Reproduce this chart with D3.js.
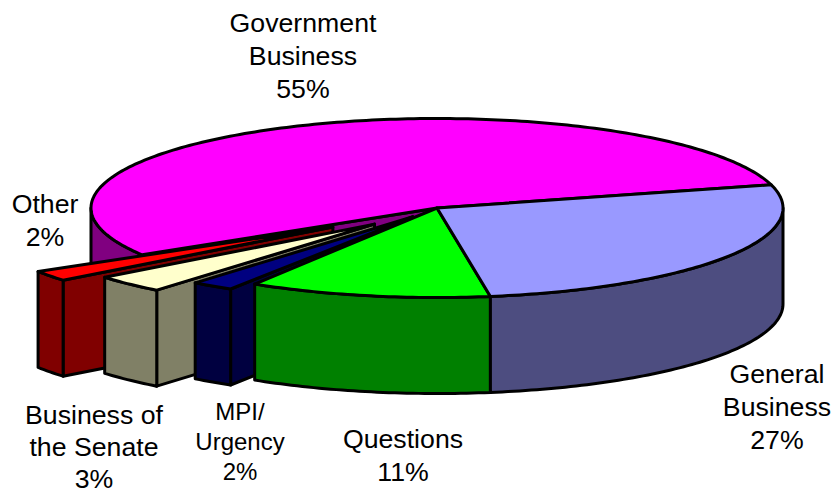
<!DOCTYPE html>
<html>
<head>
<meta charset="utf-8">
<script src="https://cdn.jsdelivr.net/npm/d3@7"></script>
<style>
html, body { margin: 0; padding: 0; background: #fff; }
text { font-family: "Liberation Sans", Arial, sans-serif; fill: #000; text-anchor: middle; }
</style>
</head>
<body>
<div class="visualization"></div>
<script>
// slices in drawing order round the pie, clockwise from the first edge
const categories = ['General Business', 'Questions', 'MPI/Urgency', 'Business of the Senate', 'Other', 'Government Business'];
const shares = [26.7, 11.3, 2, 3.4, 2, 54.6];
const explode = [0, 0, 0.12, 0.255, 0.368, 0];
const topColours = ['#9999ff', '#00ff00', '#000080', '#ffffcc', '#ff0000', '#ff00ff'];
const wallColours = ['#4d4d80', '#008000', '#000040', '#808066', '#800000', '#800080'];

const labelLines = [
    ['General', 'Business', '27%'],
    ['Questions', '11%'],
    ['MPI/', 'Urgency', '2%'],
    ['Business of', 'the Senate', '3%'],
    ['Other', '2%'],
    ['Government', 'Business', '55%']
];

const width = 833;
const height = 494;
const cx = 437, cy = 208;
const rx = 346, ry = 89.5;
const ryExploded = 85;
const depth = 96;
const deg = Math.PI / 180;

// hand placed, as the original labels are
const labelPos = [
    {x: 777, y: 383, dy: 33, size: 26.7},
    {x: 403, y: 447.5, dy: 33.5, size: 26.7},
    {x: 240, y: 419.5, dy: 30, size: 24},
    {x: 94, y: 423.5, dy: 32.2, size: 26.7},
    {x: 45, y: 213, dy: 32.5, size: 26.7},
    {x: 303, y: 31.5, dy: 33, size: 26.7}
];

const xScale = d3.scaleLinear().domain([-1, 1]).range([cx - rx, cx + rx]);
const yScale = d3.scaleLinear().domain([-1, 1]).range([cy - ry, cy + ry]);

const pie = d3.pie().sort(null).startAngle(75 * deg).endAngle(435 * deg);
const arcs = pie(shares);

const line = d3.line().curve(d3.curveLinear);

const svg = d3.select('.visualization').append('svg')
    .attr('width', width)
    .attr('height', height)
    .style('display', 'block');

function sliceGeometry(a, i) {
    const mid = (a.startAngle + a.endAngle) / 2;
    const ox = xScale(explode[i] * Math.sin(mid)) - cx;
    const oy = yScale(explode[i] * -Math.cos(mid)) - cy;
    const squash = explode[i] > 0 ? ryExploded / ry : 1;
    const tip = [cx + ox, cy + oy];
    const at = t => [
        xScale(Math.sin(t)) + ox,
        cy + oy + (yScale(-Math.cos(t)) - cy) * squash
    ];
    return {tip, at};
}

function sweep(t0, t1) {
    const n = Math.max(2, Math.ceil((t1 - t0) / deg));
    return d3.range(n + 1).map(k => t0 + (t1 - t0) * k / n);
}

function drawSlice(a, i) {
    const g = svg.append('g').attr('class', 'slice').datum(categories[i]);
    const {tip, at} = sliceGeometry(a, i);
    const shapes = [];
    const drop = p => [p[0], p[1] + depth];

    // radial wall on the start edge, seen only on the cut faces
    if (explode[i] > 0 || i === categories.length - 1) {
        const edge = at(a.startAngle);
        shapes.push({pts: [tip, edge, drop(edge), drop(tip)], fill: wallColours[i]});
    }

    // outer wall, only the part that faces the viewer
    const t0 = Math.max(a.startAngle, 90 * deg);
    const t1 = Math.min(a.endAngle, 270 * deg);
    if (t1 > t0) {
        const rim = sweep(t0, t1).map(at);
        shapes.push({pts: rim.concat(rim.slice().reverse().map(drop)), fill: wallColours[i]});
    }

    // top face
    shapes.push({pts: [tip].concat(sweep(a.startAngle, a.endAngle).map(at)), fill: topColours[i]});

    g.selectAll('path')
        .data(shapes)
        .enter().append('path')
        .attr('d', d => line(d.pts) + 'Z')
        .attr('fill', d => d.fill)
        .attr('stroke', '#000')
        .attr('stroke-width', 3)
        .attr('stroke-linejoin', 'round');
}

// back to front: government, then the pulled out slices, then the near slices
[5, 4, 3, 2, 1, 0].forEach(i => drawSlice(arcs[i], i));

labelLines.forEach((lines, i) => {
    const p = labelPos[i];
    svg.append('g').selectAll('text')
        .data(lines)
        .enter().append('text')
        .attr('x', p.x)
        .attr('y', (d, k) => p.y + k * p.dy)
        .style('font-size', p.size + 'px')
        .text(d => d);
});
</script>
</body>
</html>
